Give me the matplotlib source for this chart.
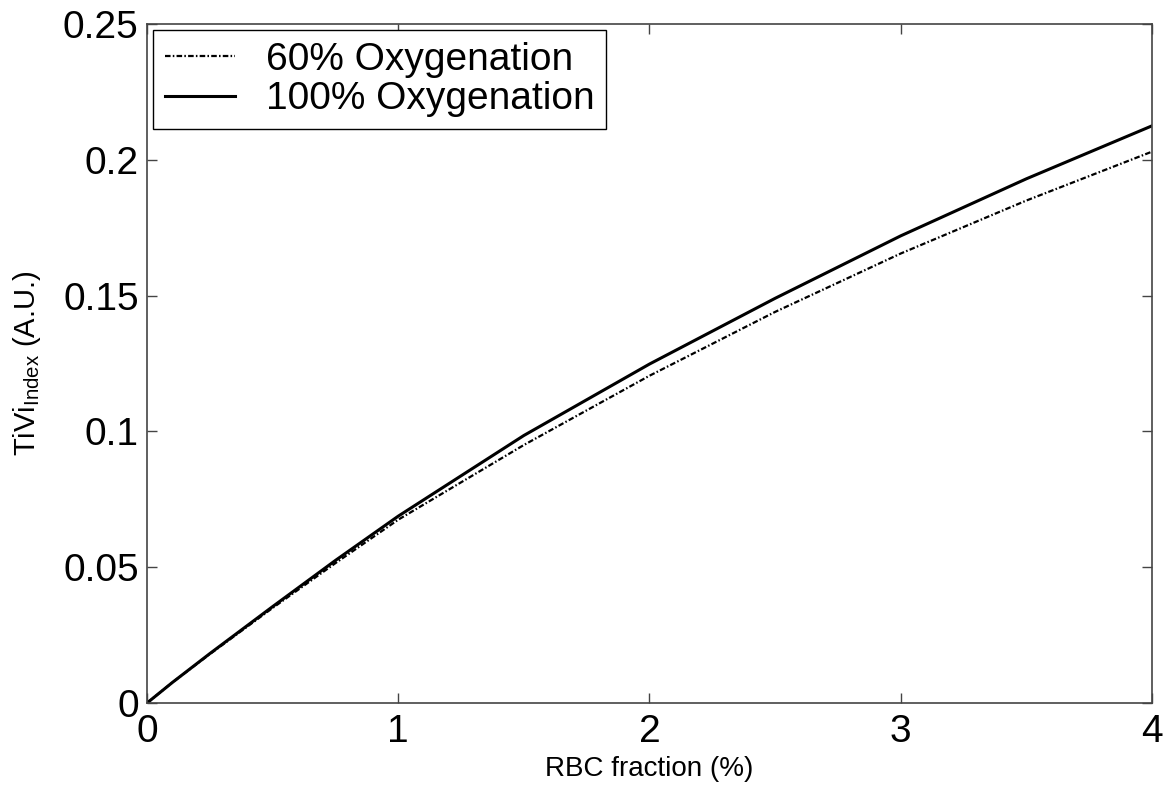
import numpy as np
import matplotlib
matplotlib.use("Agg")
import matplotlib.pyplot as plt

plt.rcParams['font.family'] = ['Liberation Sans', 'DejaVu Sans']
plt.rcParams['mathtext.fontset'] = 'custom'
plt.rcParams['mathtext.rm'] = 'Liberation Sans'
plt.rcParams['mathtext.it'] = 'Liberation Sans'

# RBC fraction (%)
rbc = [0, 0.1, 0.25, 0.5, 0.75, 1.0, 1.5, 2.0, 2.5, 3.0, 3.5, 4.0]
# TiVi index
tivi_60 = [0, 0.0075, 0.0180, 0.0350, 0.0515, 0.0675, 0.0950, 0.1205, 0.1440, 0.1655, 0.1850, 0.2030]
tivi_100 = [0, 0.0075, 0.0182, 0.0355, 0.0525, 0.0688, 0.0985, 0.1248, 0.1490, 0.1720, 0.1930, 0.2125]

fig = plt.figure(figsize=(11.63, 7.87), dpi=100)
ax = fig.add_axes([0.1264, 0.1067, 0.8641, 0.8628])

ax.plot(rbc, tivi_60, color='black', linestyle=(0, (2.5, 1.0, 0.7, 1.0)), linewidth=1.6,
        label='60% Oxygenation')
ax.plot(rbc, tivi_100, color='black', linestyle='-', linewidth=2.2, label='100% Oxygenation')

ax.set_xlim(0, 4)
ax.set_ylim(0, 0.25)
ax.set_xticks([0, 1, 2, 3, 4])
ax.set_yticks([0, 0.05, 0.1, 0.15, 0.2, 0.25])
ax.set_yticklabels(['0', '0.05', '0.1', '0.15', '0.2', '0.25'])
ax.tick_params(direction='in', top=True, right=True, length=7, width=1.0,
               labelsize=28, pad=6, color='#444444')
ax.tick_params(axis='x', pad=8)
for s in ax.spines.values():
    s.set_color('#444444')
    s.set_linewidth(1.2)

ax.set_xlabel('RBC fraction (%)', fontsize=20, labelpad=4)
ax.set_ylabel(r'TiVi$_{\mathrm{Index}}$ (A.U.)', fontsize=21, labelpad=14)

leg = ax.legend(loc='upper left', fontsize=28, fancybox=False, framealpha=1,
                edgecolor='black', handlelength=1.8, borderaxespad=0.15,
                labelspacing=0.1, borderpad=0.3, handletextpad=0.8)
leg.get_frame().set_linewidth(1.0)

fig.savefig('out.png', dpi=100)
